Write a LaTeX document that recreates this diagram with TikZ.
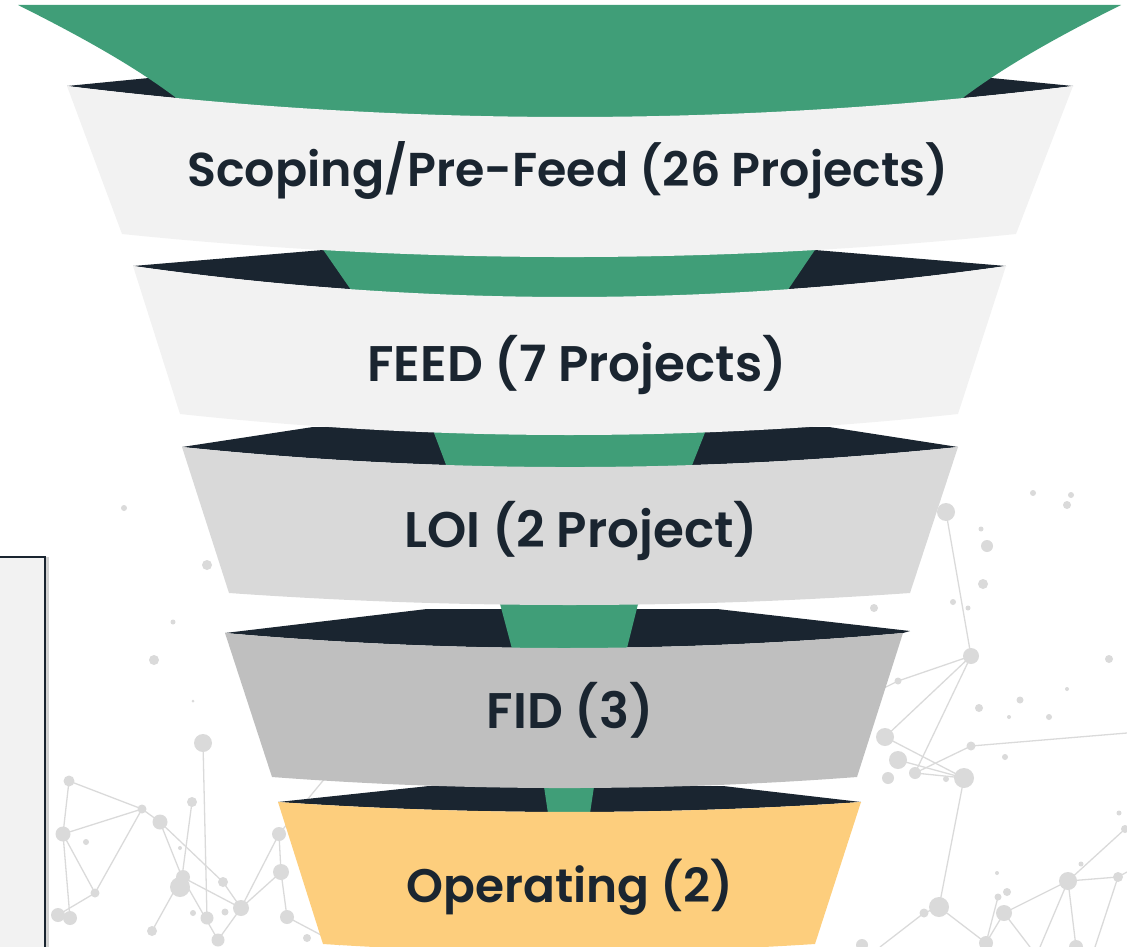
\documentclass[tikz,border=0pt]{standalone}
\usepackage{fontspec}
\setmainfont{Poppins}[BoldFont={Poppins SemiBold}]
\usepackage{tikz}
\usetikzlibrary{shadows}
\definecolor{funnelgreen}{HTML}{409E78}
\definecolor{rimnavy}{HTML}{1A2530}
\definecolor{bandlight}{HTML}{F2F2F2}
\definecolor{bandmid}{HTML}{D9D9D9}
\definecolor{banddark}{HTML}{BFBFBF}
\definecolor{bandgold}{HTML}{FDCE7D}
\definecolor{netgray}{HTML}{DADADA}
\tikzset{
    rim/.style={fill=rimnavy},
    flow/.style={fill=funnelgreen},
    band/.style={fill=#1},
    netdot/.style={fill=netgray},
    netline/.style={draw=netgray, line width=1.3pt},
    sidebox/.style={fill=bandlight, draw=rimnavy, line width=1.6pt,
        drop shadow={shadow xshift=4pt, shadow yshift=0pt, opacity=0.35}},
    stagetext/.style={anchor=base, text=rimnavy, font=\fontsize{#1}{60}\selectfont\bfseries},
    stagetext/.default=50
}

\begin{document}
\begin{tikzpicture}[x=1pt, y=-1pt]
    \useasboundingbox (0,0) rectangle (1127,947);
    \clip (0,0) rectangle (1127,947);

    % background network
    \draw[netline] (69,781) -- (142,809) -- (63,834) -- cycle;
    \draw[netline] (142,809) -- (160,822) -- (182,877) -- (241,908) -- (279,834) -- (281,872) -- (287,917);
    \draw[netline] (142,809) -- (95,893) -- (63,834) -- (70,918);
    \draw[netline] (95,893) -- (58,915);
    \draw[netline] (160,822) -- (223,882) -- (241,908) -- (281,872);
    \draw[netline] (203,743) -- (207,918);
    \draw[netline] (192,802) -- (182,877) -- (218,940) -- (241,908);
    \draw[netline] (182,877) -- (152,931);
    \draw[netline] (279,834) -- (340,760);
    \draw[netline] (287,917) -- (340,945);
    \draw[netline] (946,512) -- (971,656) -- (898,681) -- (860,700);
    \draw[netline] (971,656) -- (885,737) -- (964,778) -- (939,907) -- (924,913) -- (880,947);
    \draw[netline] (971,656) -- (915,773) -- (971,746) -- (1127,733);
    \draw[netline] (898,760) -- (964,778) -- (915,773);
    \draw[netline] (939,907) -- (986,943) -- (1004,913) -- (1068,881) -- (1125,829);
    \draw[netline] (1068,881) -- (1076,947);
    \draw[netline] (1068,881) -- (1040,947);
    \draw[netline] (1068,881) -- (1118,877) -- (1127,872);
    \draw[netline] (1118,877) -- (1095,947);
    \draw[netline] (1004,913) -- (1030,947);
    \draw[netline] (998,897) -- (986,943);
    \foreach \px/\py/\pr in {124/508/3, 207/565/5, 173/622/2.5, 154/660/5, 193/701/1.5, 203/743/9,
        69/781/5.5, 142/809/4.5, 160/822/7.5, 63/834/7.5, 86/842/3, 192/802/5, 95/893/4.5,
        180/887/10, 183/877/7, 223/882/5, 241/908/8, 207/918/6.5, 218/940/6.5, 152/931/5,
        58/915/7, 70/918/7, 279/834/7, 281/872/8, 287/917/7, 193/913/3, 225/912/3.5,
        180/848/2, 307/938/4,
        946/512/9, 987/546/6, 983/584/5, 981/529/2.5, 1033/493/3, 1071/495/3, 1067/505/4,
        971/656/8, 953/602/3, 968/608/2.5, 874/608/4, 1109/659/4, 979/708/4, 1020/700/3.5,
        1049/717/3, 1009/717/2, 1067/689/2, 971/746/4.5, 1005/757/3, 964/778/10, 946/779/3,
        915/773/6, 888/778/6, 898/760/9, 885/737/9, 898/681/3.5, 939/907/10, 924/913/4.5,
        1004/913/8, 998/897/3.5, 1007/892/4, 1068/881/9, 1118/877/5, 1125/829/4, 1119/813/2.5,
        1081/864/2.5, 997/873/2, 986/943/7, 1076/947/7, 862/945/6}
        \fill[netdot] (\px,\py) circle (\pr pt);

    % side panel
    \path[sidebox] (-20,557) rectangle (45,980);

    % rims and green flow
    \path[rim] (67,86) -- (200,73) -- (940,73) -- (1073,86)
        .. controls (738,127.3) and (402,127.3) .. (67,86) -- cycle;
    \path[flow] (18,5) -- (1121,5) .. controls (1055,38) and (1004,67) .. (964,97)
        -- (930,135) -- (210,135) -- (175,97) .. controls (135,67) and (84,38) .. (18,5) -- cycle;

    \path[rim] (133,266) -- (323,250) -- (815,250) -- (1006,266)
        .. controls (715,307.3) and (424,307.3) .. (133,266) -- cycle;
    \path[flow] (315,238) -- (823,238) -- (781,300) -- (358,300) -- cycle;

    \path[rim] (182,447) -- (313,427) -- (829,427) -- (958,447)
        .. controls (699.3,473.7) and (440.7,473.7) .. (182,447) -- cycle;
    \path[flow] (431,425) -- (708,425) -- (687,478) -- (451,478) -- cycle;

    \path[rim] (225,633) -- (427,609) -- (717,609) -- (910,631) -- (903,633)
        .. controls (677,653) and (451,653) .. (225,633) -- cycle;
    \path[flow] (499,600) -- (639,600) -- (624,660) -- (515,660) -- cycle;

    \path[rim] (278,802) -- (429,786) -- (723,786) -- (861,802)
        .. controls (666.7,815.3) and (472.3,815.3) .. (278,802) -- cycle;
    \path[flow] (543,780) -- (595,780) -- (589,820) -- (549,820) -- cycle;

    % bands
    \path[band=bandlight] (67,86) .. controls (402,127.3) and (738,127.3) .. (1073,86)
        -- (1016,234) .. controls (718,264.7) and (420,264.7) .. (122,234) -- cycle;
    \path[band=bandlight] (133,266) .. controls (424,307.3) and (715,307.3) .. (1006,266)
        -- (958,414) .. controls (698.7,442) and (439.3,442) .. (180,414) -- cycle;
    \path[band=bandmid] (182,447) .. controls (440.7,473.7) and (699.3,473.7) .. (958,447)
        -- (910,593) .. controls (683,609) and (456,609) .. (229,593) -- cycle;
    \path[band=banddark] (225,633) .. controls (451,653) and (677,653) .. (903,633)
        -- (857,777) .. controls (662,791.7) and (467,791.7) .. (272,777) -- cycle;
    \path[band=bandgold] (278,802) .. controls (472.3,815.3) and (666.7,815.3) .. (861,802)
        -- (815,944) .. controls (651,954.7) and (487,954.7) .. (323,944) -- cycle;

    \node[stagetext=47.5] (scoping) at (568,186) {Scoping/Pre-Feed (26 Projects)};
    \node[stagetext] (feed) at (577,381) {FEED (7 Projects)};
    \node[stagetext] (loi) at (581,547) {LOI (2 Project)};
    \node[stagetext] (fid) at (570,728) {FID (3)};
    \node[stagetext=47] (operating) at (570,902) {Operating (2)};
\end{tikzpicture}
\end{document}
